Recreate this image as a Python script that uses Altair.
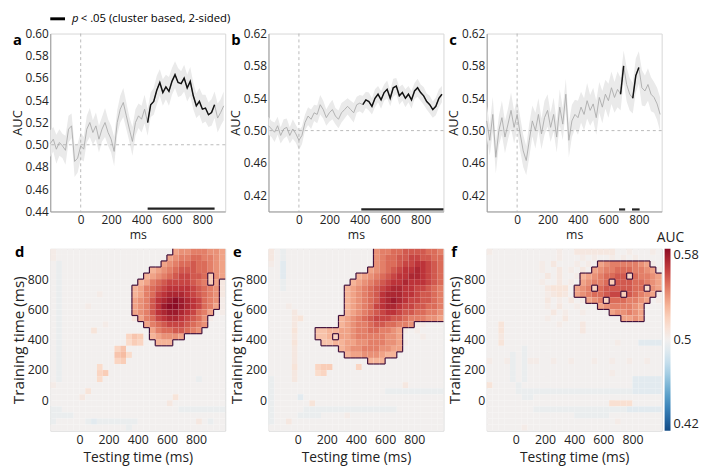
import altair as alt
import pandas as pd

FONT = "Open Sans"
TXT = "#222222"

# ---------------- top row: decoding time courses (20 ms steps) ----------------
times = list(range(-200, 960, 20))

a_mean = [0.501, 0.505, 0.496, 0.502, 0.499, 0.495, 0.514, 0.517, 0.485, 0.488,
          0.499, 0.496, 0.514, 0.520, 0.511, 0.517, 0.505, 0.514, 0.520, 0.511,
          0.505, 0.494, 0.520, 0.532, 0.538, 0.526, 0.514, 0.503, 0.520, 0.526,
          0.523, 0.532, 0.520, 0.536, 0.539, 0.549, 0.556, 0.547, 0.552, 0.548,
          0.557, 0.563, 0.556, 0.555, 0.560, 0.551, 0.557, 0.544, 0.535, 0.539,
          0.532, 0.533, 0.527, 0.529, 0.536, 0.524, 0.529, 0.535]
a_sem = [0.012, 0.011, 0.013, 0.012, 0.011, 0.013, 0.012, 0.011, 0.014, 0.013,
         0.012, 0.011, 0.012, 0.013, 0.011, 0.012, 0.012, 0.011, 0.013, 0.012,
         0.012, 0.013, 0.011, 0.012, 0.013, 0.012, 0.011, 0.013, 0.012, 0.011,
         0.012, 0.013, 0.012, 0.011, 0.012, 0.013, 0.012, 0.012, 0.011, 0.013,
         0.012, 0.012, 0.013, 0.011, 0.012, 0.012, 0.013, 0.012, 0.011, 0.012,
         0.013, 0.012, 0.011, 0.012, 0.012, 0.013, 0.012, 0.013]

b_mean = [0.506, 0.502, 0.498, 0.506, 0.494, 0.502, 0.504, 0.494, 0.502, 0.496,
          0.488, 0.494, 0.510, 0.518, 0.514, 0.522, 0.520, 0.532, 0.526, 0.516,
          0.522, 0.526, 0.518, 0.514, 0.522, 0.526, 0.530, 0.526, 0.522, 0.532,
          0.534, 0.532, 0.538, 0.536, 0.530, 0.540, 0.545, 0.538, 0.547, 0.551,
          0.540, 0.553, 0.555, 0.543, 0.547, 0.540, 0.545, 0.538, 0.549, 0.553,
          0.547, 0.543, 0.536, 0.532, 0.526, 0.530, 0.540, 0.545]
b_sem = [0.011, 0.010, 0.012, 0.011, 0.010, 0.012, 0.011, 0.010, 0.012, 0.011,
         0.012, 0.011, 0.010, 0.011, 0.012, 0.010, 0.011, 0.012, 0.011, 0.010,
         0.011, 0.012, 0.010, 0.011, 0.012, 0.011, 0.010, 0.011, 0.012, 0.010,
         0.010, 0.011, 0.010, 0.011, 0.010, 0.011, 0.010, 0.011, 0.010, 0.011,
         0.010, 0.011, 0.010, 0.011, 0.010, 0.011, 0.010, 0.011, 0.010, 0.011,
         0.010, 0.011, 0.010, 0.011, 0.010, 0.011, 0.011, 0.010]

c_mean = [0.512, 0.488, 0.520, 0.467, 0.500, 0.516, 0.492, 0.508, 0.525, 0.504,
          0.520, 0.496, 0.475, 0.463, 0.488, 0.512, 0.500, 0.520, 0.496, 0.516,
          0.525, 0.504, 0.520, 0.492, 0.529, 0.508, 0.545, 0.488, 0.512, 0.520,
          0.516, 0.529, 0.520, 0.537, 0.525, 0.533, 0.516, 0.541, 0.529, 0.545,
          0.537, 0.553, 0.541, 0.551, 0.545, 0.580, 0.557, 0.545, 0.540, 0.568,
          0.578, 0.553, 0.549, 0.557, 0.545, 0.541, 0.533, 0.520]
c_sem = [0.021, 0.019, 0.022, 0.020, 0.018, 0.021, 0.020, 0.019, 0.022, 0.020,
         0.019, 0.021, 0.020, 0.018, 0.021, 0.019, 0.022, 0.020, 0.019, 0.021,
         0.020, 0.018, 0.021, 0.019, 0.022, 0.020, 0.019, 0.021, 0.020, 0.018,
         0.021, 0.019, 0.020, 0.022, 0.019, 0.020, 0.021, 0.019, 0.020, 0.018,
         0.021, 0.020, 0.019, 0.022, 0.020, 0.019, 0.021, 0.020, 0.019, 0.021,
         0.020, 0.022, 0.019, 0.020, 0.021, 0.019, 0.020, 0.021]

a_sig = [[440, 880]]
b_sig = [[410, 950]]
c_sig = [[670, 710], [755, 805]]

a_ydom = [0.44, 0.60]
bc_ydom = [0.40, 0.62]
a_yticks = [0.44, 0.46, 0.48, 0.50, 0.52, 0.54, 0.56, 0.58, 0.60]
bc_yticks = [0.42, 0.46, 0.50, 0.54, 0.58, 0.62]
x_ticks = [0, 200, 400, 600, 800]
key_label = "< .05 (cluster based, 2-sided)"

# ---------------- bottom row: temporal generalisation (40 ms cells) ----------------
LEVELS = {".": 0.500, ",": 0.496, "-": 0.492, "~": 0.488,
          "1": 0.503, "2": 0.506, "3": 0.509, "4": 0.512, "5": 0.515,
          "6": 0.518, "7": 0.521, "8": 0.524, "9": 0.527}
CLUSTER = "abcdefghijklmnop"  # inside significant cluster: 0.510 ... 0.580

d_rows = [
    "1...." "....." "....." "....." ".fggh" "hhggf",
    "1...." "....." "....." "....." "fghhi" "ihhgf",
    ".,..." "....." "....." "....f" "ghiij" "iihgf",
    ".,..." "....." "....." "..efg" "hijjj" "iihgf",
    ".,..." "....." "....." ".efgh" "ijkkj" "ji7gf",
    ".,..." "....." "....." "efhij" "kkkkj" "ih7f2",
    ".,..." "....." "....e" "fhijk" "llllk" "jihg2",
    ".,..." "...1." "....e" "fhikl" "mmmlk" "jihg2",
    ".,..." "....." "....f" "ghjlm" "nonml" "kihg1",
    ".,..." ".1..." "....f" "ghjln" "oonml" "kihf1",
    ".,..." "....." "....f" "ghjlm" "nnmlk" "ihf.1",
    ".,..." "....." "....2" "fhikl" "mmlkj" "ig1..",
    ".,..." "....1" "....." ".fhij" "kkkji" "hg...",
    ".,..." "..3.." "....." "..fhi" "ijjih" "g....",
    ".,..." "....." "...68" "7.efg" "ggf.." ".....",
    ".,..." "....." "...57" "6..ee" "e...." ".....",
    ".,..." "....." ".68.." "....." "....." ".....",
    ".,..." "....." ".895." "....." "....." ".....",
    ".,..." "....." ".67.." "....." "....." ".....",
    ".,..." "...5." "....." "....." "....." ".....",
    ".,..." "...67" "....." "....." "....." ".....",
    ".,..." "...5." "....." "....." "....." ",....",
    "1...." "....." "....." "....." "....." ".....",
    "....." ".3..." "....." "....." "....." ".....",
    "....." "2...." "....." "....." ".3..." ".....",
    "....." "....." "....." "....." "2...." ".....",
    ",,..." "....." "....." "....." "..,,," ",,,,,",
    ",,,,." "....." "....." "....." "....." ".....",
    ",...." ".,-,," ",,,,," "....." "....." "2.,..",
    "....." "....." "...,." "....." "....." ".....",
]

e_rows = [
    "2.,.." "....." "....." "...gh" "hiijj" "jjiih",
    "2.,.." "....." "....." "...gh" "iijjk" "kjjii",
    "1.-.." "....." "....." "...gh" "iijkk" "llkji",
    "..-.." "....." "....." "..fgh" "ijkll" "mlkji",
    "..-.." "....." "....." "efghi" "jkllm" "mlkji",
    "..,.." "....." "....e" "fghij" "kllml" "llkji",
    "..,.." "....." "...ef" "ghijk" "lmmll" "kkjih",
    "....." "....." "...ef" "ghijl" "mmmll" "kjjih",
    "....." "....." "...ef" "ghijl" "mnmlk" "kjjih",
    "...1." "....." "...ef" "ghikl" "mmlkk" "jjiih",
    "....2" "....." "...ef" "ghijk" "llkjj" "iihhg",
    "....2" "3...." "..efg" "hijkk" "kjjih" "hhggf",
    "....2" "....." "..efg" "hhijj" "iihhg" "11...",
    "....3" "...dd" "eeffg" "hhiih" "hgf1." "1....",
    "....2" "...dd" "e6ffg" "hhhhh" "ggf.." ".1...",
    "....3" "....d" "deeff" "gghhh" "ggf1." ".....",
    "....2" "....." "..efg" "ghhhg" "gff.." ".....",
    "....2" "....." "...ef" "fgggf" "ee..." ".....",
    "....2" "....." "....." "..eee" "....." ".....",
    "....3" "...67" "7...." "6...." "....." ".....",
    "....2" "...56" "....." "....." "....." ".....",
    ",...2" "....." "....." "....." "....." ".....",
    ",...." "....." "....." "....." "...2." ".....",
    ",...." "....." "....." "....." ",,,,," ",,,,,",
    ",...." "-...." "....." "....." "....." ".....",
    ",...." "..3.." "....." "....." "....." ".....",
    ",...." ".,,,," ",,,,," ",,,,," ",,..." ".....",
    ",...." ",,,,." "...1." "....." "....." ".....",
    ",..2." "....." "....." "....." "....." ".....",
    "....." "....." "....." "....." "....." ".....",
]

f_rows = [
    "1...." "....." "..1.." "22222" "22..1" "...1.",
    "....." "....." "..1.." ".1.1." ".1.1." "1....",
    "....." "....1" ".2..." "1.1.f" "ghhhh" "hgf1.",
    "....." "....1" "..2.1" ".2.fg" "hhiii" "hhgf1",
    "....." "....." "2.2.." "1efgh" "iijj6" "ihhgf",
    "....." "....1" "..2.1" ".fghh" "i7jjj" "iihgf",
    "....." "....." "2333." "fgh6i" "jjjjj" "ii5gf",
    "....." "....." "1232." "fghii" "jkk7j" "ihgf1",
    "....." "....." "2.1.2" ".1fgh" "6iiih" "hgf.1",
    "....." "....." "1.2.." "1...f" "ghhhh" "gf...",
    "....." "....." ".2.1." ".1..." ".fggh" "gf...",
    "....." "....." "1..2." "....." "...ff" "gf...",
    "..3.." "....." "..1.." ".2..." "....." ".....",
    "..3.." "....." "....." ".2..." "....." ".....",
    "..2.." "....." "....." "....." "....." ".....",
    "..3.." "....." "....." "....." "..1.." ".----",
    "....." ".,..." "....." "....." "....." ".....",
    "....," ".,..." "....." "....." "....." ".....",
    "1..1," ".,11." ".1..1" "...1." ".1..1" "..1..",
    "....," ".,..." "....." "....." "....." ".....",
    "....," ".,..." "....." "....." ".1..." ".....",
    "....," ".,..." "....." "....." "....." "-----",
    "3...." ",...." "....." "....." "....." "-----",
    "....." ",,,,," ",,,,," ",,,,," ",,,,," "-----",
    "....." ".,,.." "....." "....." "....." ".....",
    "....." "....." "....." "....." ".4444" ".....",
    "....." "...,," ",,,,," ",,,,," ",,,,-" "-----",
    "....." "....." "....." ",,,,," ",...." ".....",
    "....." "....." "....." "....." "..1.." ".....",
    "....." ".1..." "....." "....." "....." ".....",
]

W = 178
HT = 181
HB = 185
NCELL = 30
CELL = 40


def letter_layer(letter, dx, dy):
    return alt.Chart(pd.DataFrame({"k": [letter]})).mark_text(
        font=FONT, fontSize=15, fontWeight="bold", align="left", baseline="top", color="#000"
    ).encode(text="k:N", x=alt.value(dx), y=alt.value(dy))


def line_panel(mean, sem, sig, ydom, yticks, letter, with_key=False):
    df = pd.DataFrame({"t": times, "auc": mean, "sem": sem})
    df["lo"] = df["auc"] - df["sem"]
    df["hi"] = df["auc"] + df["sem"]
    seg = []
    for t in times:
        k = -1
        for i, (s, e) in enumerate(sig):
            if s <= t <= e:
                k = i
        seg.append(k)
    df["seg"] = seg

    xs = alt.Scale(domain=[-200, 950], nice=False, zero=False)
    ys = alt.Scale(domain=ydom, nice=False, zero=False)
    xax = alt.Axis(values=x_ticks, title="ms", ticks=False, labelPadding=3, titlePadding=4,
                   labelFontSize=12, titleFontSize=12.5, titleFontWeight="normal",
                   domainColor="#9a9a9a", grid=False, labelFlush=False)
    yax = alt.Axis(values=yticks, format=".2f", title="AUC", ticks=False, labelPadding=2,
                   titlePadding=1, labelFontSize=12, titleFontSize=13,
                   titleFontWeight="normal", domainColor="#9a9a9a", grid=False)
    X = alt.X("t:Q", scale=xs, axis=xax)

    def Y(f):
        return alt.Y(f, scale=ys, axis=yax)

    base = alt.Chart(df)
    band = base.mark_area(color="#eaeaea").encode(x=X, y=Y("lo:Q"), y2=alt.Y2("hi:Q"))
    hline = alt.Chart(pd.DataFrame({"auc": [0.5]})).mark_rule(
        color="#a8a8a8", strokeDash=[3, 3], strokeWidth=0.8).encode(y=Y("auc:Q"))
    vline = alt.Chart(pd.DataFrame({"t": [0]})).mark_rule(
        color="#a8a8a8", strokeDash=[3, 3], strokeWidth=0.8).encode(x=X)
    grey = base.mark_line(color="#ababab", strokeWidth=0.9).encode(x=X, y=Y("auc:Q"))
    black = base.transform_filter("datum.seg >= 0").mark_line(
        color="#111111", strokeWidth=1.5).encode(x=X, y=Y("auc:Q"), detail="seg:N")
    bars_df = pd.DataFrame({"t": [s for s, e in sig], "t2": [e for s, e in sig],
                            "auc": [ydom[0] + 0.0025] * len(sig)})
    bars = alt.Chart(bars_df).mark_rule(color="#222222", strokeWidth=2.2).encode(
        x=X, x2=alt.X2("t2:Q"), y=Y("auc:Q"))
    layers = [band, hline, vline, grey, black, bars, letter_layer(letter, -38, 0)]
    if with_key:
        kd = pd.DataFrame({"p": ["p"], "lab": [key_label]})
        key_line = alt.Chart(kd).mark_rule(color="#000", strokeWidth=3).encode(
            x=alt.value(0), x2=alt.value(15), y=alt.value(-15))
        key_p = alt.Chart(kd).mark_text(font=FONT, fontSize=11.5, fontStyle="italic",
                                        align="left", baseline="middle", color="#000").encode(
            text="p:N", x=alt.value(22), y=alt.value(-15))
        key_t = alt.Chart(kd).mark_text(font=FONT, fontSize=11.5, align="left",
                                        baseline="middle", color="#000").encode(
            text="lab:N", x=alt.value(31), y=alt.value(-15))
        layers += [key_line, key_p, key_t]
    return alt.layer(*layers).properties(width=W, height=HT)


def heat_panel(rows, letter, show_legend):
    grid = [r.ljust(NCELL, ".")[:NCELL] for r in rows]

    def inside(r, c):
        return 0 <= r < NCELL and 0 <= c < NCELL and grid[r][c] in CLUSTER

    cells, edges = [], []
    for r, row in enumerate(grid):
        for c, ch in enumerate(row):
            x0 = -200 + CELL * c
            ytop = 1000 - CELL * r
            if ch in CLUSTER:
                v = min(0.58, 0.505 + 0.005 * (CLUSTER.index(ch) + 1))
            else:
                v = LEVELS.get(ch, 0.5)
            cells.append({"x0": x0, "x1": x0 + CELL, "y0": ytop - CELL, "y1": ytop, "auc": v})
            if ch in CLUSTER:
                if r > 0 and not inside(r - 1, c):
                    edges.append({"x0": x0, "x1": x0 + CELL, "y0": ytop, "y1": ytop})
                if r < NCELL - 1 and not inside(r + 1, c):
                    edges.append({"x0": x0, "x1": x0 + CELL, "y0": ytop - CELL, "y1": ytop - CELL})
                if c > 0 and not inside(r, c - 1):
                    edges.append({"x0": x0, "x1": x0, "y0": ytop - CELL, "y1": ytop})
                if c < NCELL - 1 and not inside(r, c + 1):
                    edges.append({"x0": x0 + CELL, "x1": x0 + CELL, "y0": ytop - CELL, "y1": ytop})

    xs = alt.Scale(domain=[-200, 1000], nice=False, zero=False)
    ys = alt.Scale(domain=[-200, 1000], nice=False, zero=False)
    xax = alt.Axis(values=x_ticks, title="Testing time (ms)", ticks=False, domain=False,
                   labelPadding=3, titlePadding=5, labelFontSize=12.5, titleFontSize=14,
                   titleFontWeight="normal", grid=False, labelFlush=False)
    yax = alt.Axis(values=x_ticks, title="Training time (ms)", ticks=False, domain=False,
                   labelPadding=2, titlePadding=1, labelFontSize=12.5, titleFontSize=15.5,
                   titleFontWeight="normal", grid=False, labelFlush=False)
    if show_legend:
        leg = alt.Legend(title=None, orient="right", direction="vertical", gradientLength=HB,
                         gradientThickness=6, values=[0.42, 0.5, 0.58], format=".2~f",
                         labelFontSize=13, offset=3, padding=0, labelOffset=3,
                         gradientStrokeWidth=0, labelColor=TXT)
    else:
        leg = None
    color = alt.Color("auc:Q", scale=alt.Scale(scheme=alt.SchemeParams(name="redblue", extent=[1, 0]),
                                               domain=[0.42, 0.58]), legend=leg)
    rect = alt.Chart(pd.DataFrame(cells)).mark_rect(strokeWidth=0).encode(
        x=alt.X("x0:Q", scale=xs, axis=xax), x2=alt.X2("x1:Q"),
        y=alt.Y("y0:Q", scale=ys, axis=yax), y2=alt.Y2("y1:Q"),
        color=color)
    outline = alt.Chart(pd.DataFrame(edges)).mark_rule(color="#40103c", strokeWidth=1.2).encode(
        x=alt.X("x0:Q", scale=xs, axis=xax), x2=alt.X2("x1:Q"),
        y=alt.Y("y0:Q", scale=ys, axis=yax), y2=alt.Y2("y1:Q"))
    layers = [rect, outline, letter_layer(letter, -36, -4)]
    if show_legend:
        t = alt.Chart(pd.DataFrame({"k": ["AUC"]})).mark_text(
            font=FONT, fontSize=14, align="center", baseline="middle", color=TXT).encode(
            text="k:N", x=alt.value(W + 9), y=alt.value(-11))
        layers.append(t)
    return alt.layer(*layers).properties(width=W, height=HB)


pa = line_panel(a_mean, a_sem, a_sig, a_ydom, a_yticks, "a", with_key=True)
pb = line_panel(b_mean, b_sem, b_sig, bc_ydom, bc_yticks, "b")
pc = line_panel(c_mean, c_sem, c_sig, bc_ydom, bc_yticks, "c")
hd = heat_panel(d_rows, "d", False)
he = heat_panel(e_rows, "e", False)
hf = heat_panel(f_rows, "f", True)

chart = alt.concat(
    pa, pb, pc, hd, he, hf, columns=3,
    spacing={"row": 38, "column": 44}, bounds="flush",
    padding={"left": 2, "top": 0, "right": 0, "bottom": 0}
).resolve_scale(color="independent").configure(
    font=FONT
).configure_view(stroke="#d6d6d6", strokeWidth=1).configure_axis(
    labelColor=TXT, titleColor=TXT, labelFont=FONT, titleFont=FONT
)

chart.save("out.html", embed_options={"renderer": "svg", "actions": False})
